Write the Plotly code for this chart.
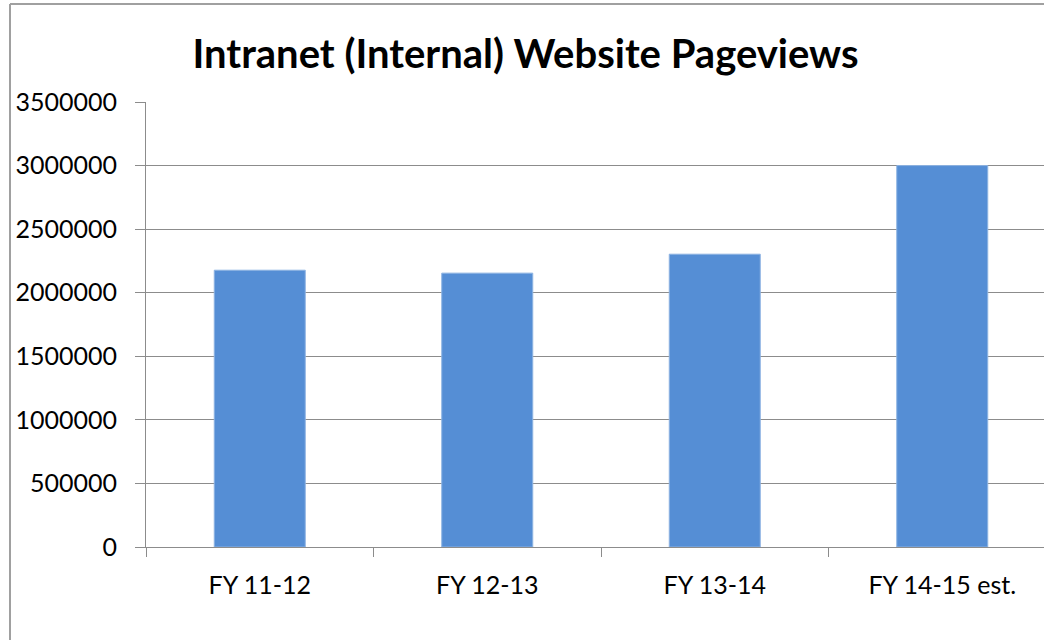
import plotly.graph_objects as go

categories = ["FY 11-12", "FY 12-13", "FY 13-14", "FY 14-15 est."]
pageviews = [2177000, 2154000, 2303000, 3000000]
y_ticks = [0, 500000, 1000000, 1500000, 2000000, 2500000, 3000000, 3500000]

W, H = 1044, 640
ML, MR, MT, MB = 146, 0, 102, 93
FONT = "Lato, 'Open Sans', sans-serif"

fig = go.Figure(go.Bar(
    x=categories, y=pageviews,
    marker=dict(color="#558ED5", line=dict(color="#8DB3E2", width=1)),
))

pw = W - ML - MR
ph = H - MT - MB
cat_w = 227.5

fig.update_layout(
    width=W, height=H,
    margin=dict(l=ML, r=MR, t=MT, b=MB, pad=0),
    paper_bgcolor="white", plot_bgcolor="white",
    bargap=0.6,
    showlegend=False,
    font=dict(family=FONT, color="black", size=25),
    title=dict(text="<b>Intranet (Internal) Website Pageviews</b>",
               x=525.5 / W, xanchor="center", y=1 - 54 / H, yanchor="middle",
               yref="container", xref="container",
               font=dict(family=FONT, size=40, color="black")),
    xaxis=dict(
        type="category", range=[-0.5, -0.5 + pw / cat_w],
        showline=True, linecolor="#8c8c8c", linewidth=1,
        ticks="outside", tickson="boundaries", ticklen=9, tickcolor="#8c8c8c",
        ticklabelstandoff=16, showgrid=False, zeroline=False,
        tickfont=dict(family=FONT, size=25, color="black"),
    ),
    yaxis=dict(
        range=[0, 3500000], tickvals=y_ticks,
        ticktext=[str(v) for v in y_ticks],
        showline=True, linecolor="#8c8c8c", linewidth=1,
        ticks="outside", ticklen=10, tickcolor="#8c8c8c",
        ticklabelstandoff=13,
        showgrid=True, gridcolor="#8c8c8c", gridwidth=1, zeroline=False,
        tickfont=dict(family=FONT, size=25, color="black"),
    ),
    shapes=[
        dict(type="line", xref="paper", yref="paper",
             x0=(10 - ML) / pw, x1=(10 - ML) / pw,
             y0=-0.5, y1=(H - MB - 4) / ph,
             line=dict(color="#a0a0a0", width=2)),
        dict(type="line", xref="paper", yref="paper",
             x0=(10 - ML) / pw, x1=1.2,
             y0=(H - MB - 4) / ph, y1=(H - MB - 4) / ph,
             line=dict(color="#a0a0a0", width=2)),
    ],
)

fig.write_html("out.html",
               config={"displayModeBar": False},
               post_script="document.body.style.margin='0px';document.body.style.overflow='hidden';")
